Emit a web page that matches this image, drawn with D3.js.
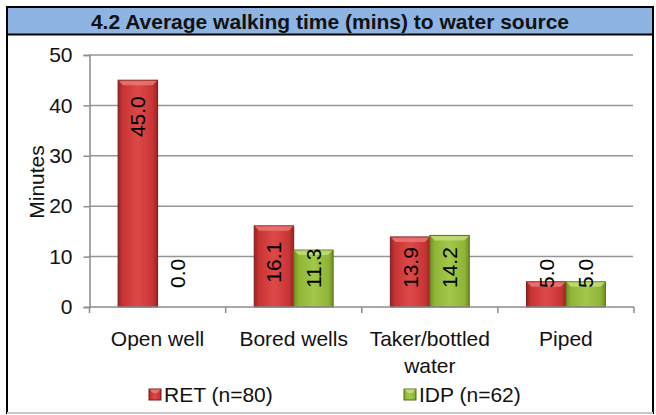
<!DOCTYPE html>
<html>
<head>
<meta charset="utf-8">
<script src="https://cdn.jsdelivr.net/npm/d3@7"></script>
<style>
  body { margin: 0; background: #fff; }
  svg { display: block; font-family: Arial, "Liberation Sans", sans-serif; }
</style>
</head>
<body>
<svg id="chart" width="656" height="415"></svg>
<script>
// chart data
const categories = ['Open well', 'Bored wells', 'Taker/bottled\nwater', 'Piped'];
const seriesNames = ['RET (n=80)', 'IDP (n=62)'];
const retValues = [45.0, 16.1, 13.9, 5.0];
const idpValues = [0.0, 11.3, 14.2, 5.0];
const yTicks = [0, 10, 20, 30, 40, 50];
const titleText = '4.2 Average walking time (mins) to water source';
const yTitle = 'Minutes';

const svg = d3.select('#chart');
const palette = {
  'RET (n=80)': { dark: '#9a2424', mid: '#c83434', light: '#dc4a48', top: '#e97470', stroke: '#7a1c1c' },
  'IDP (n=62)': { dark: '#6f8f22', mid: '#8fb436', light: '#a2c84a', top: '#c0dc74', stroke: '#55701a' }
};

const defs = svg.append('defs');
seriesNames.forEach((s, i) => {
  const c = palette[s];
  const g = defs.append('linearGradient').attr('id', 'grad' + i)
    .attr('x1', 0).attr('x2', 1).attr('y1', 0).attr('y2', 0);
  g.append('stop').attr('offset', '0%').attr('stop-color', c.dark);
  g.append('stop').attr('offset', '12%').attr('stop-color', c.mid);
  g.append('stop').attr('offset', '50%').attr('stop-color', c.light);
  g.append('stop').attr('offset', '88%').attr('stop-color', c.mid);
  g.append('stop').attr('offset', '100%').attr('stop-color', c.dark);
});

// frame + title band
svg.append('rect').attr('x', 7).attr('y', 7).attr('width', 646).attr('height', 406)
  .attr('fill', '#fff').attr('stroke', '#000').attr('stroke-width', 2);
svg.append('line').attr('x1', 7).attr('x2', 653).attr('y1', 413).attr('y2', 413)
  .attr('stroke', '#c8c8c8').attr('stroke-width', 2);
svg.append('rect').attr('x', 8).attr('y', 8).attr('width', 644).attr('height', 26)
  .attr('fill', '#8db4e2');
svg.append('line').attr('x1', 7).attr('x2', 653).attr('y1', 34.5).attr('y2', 34.5)
  .attr('stroke', '#000').attr('stroke-width', 2);
svg.append('text').attr('x', 330).attr('y', 21)
  .attr('text-anchor', 'middle').attr('dominant-baseline', 'central')
  .attr('font-weight', 'bold').attr('font-size', 21).attr('fill', '#111')
  .text(titleText);

// scales
const y = d3.scaleLinear().domain([0, 50]).range([307, 55]);
const x = d3.scaleBand().domain(categories).range([89.5, 634]);
const xs = d3.scaleBand().domain(seriesNames).range([0, x.bandwidth()])
  .paddingInner(0).paddingOuter(0.725);

// gridlines
svg.append('g').selectAll('line').data(yTicks.filter(d => d > 0)).enter()
  .append('line')
  .attr('x1', 89.5).attr('x2', 633)
  .attr('y1', d => y(d)).attr('y2', d => y(d))
  .attr('stroke', '#969696').attr('stroke-width', 1.5);

// y axis
const yAxis = svg.append('g').attr('transform', 'translate(89.5,0)')
  .call(d3.axisLeft(y).tickValues(yTicks).tickSize(6).tickPadding(11));
yAxis.select('.domain').attr('stroke', '#8c8c8c').attr('stroke-width', 1.5);
yAxis.selectAll('.tick line').attr('stroke', '#8c8c8c').attr('stroke-width', 1.5);
yAxis.selectAll('.tick text').attr('font-size', 21).attr('fill', '#111')
  .attr('font-family', 'Arial, "Liberation Sans", sans-serif');

svg.append('text')
  .attr('transform', 'translate(36,182) rotate(-90)')
  .attr('text-anchor', 'middle').attr('dominant-baseline', 'central')
  .attr('font-size', 21).attr('fill', '#111').text(yTitle);

// bars
const rows = categories.map((c, i) => ({ cat: c, vals: [retValues[i], idpValues[i]] }));
const groups = svg.append('g').selectAll('g').data(rows).enter()
  .append('g').attr('transform', d => `translate(${x(d.cat)},0)`);

groups.each(function (d) {
  const g = d3.select(this);
  d.vals.forEach((v, i) => {
    const s = seriesNames[i];
    const c = palette[s];
    const bx = xs(s), bw = xs.bandwidth();
    const top = y(v), h = y(0) - y(v);
    if (h > 0) {
      g.append('rect').attr('x', bx).attr('y', top).attr('width', bw).attr('height', h)
        .attr('fill', `url(#grad${i})`).attr('stroke', c.stroke).attr('stroke-width', 1);
      const b = Math.min(5, h / 2);
      g.append('path')
        .attr('d', `M${bx + 0.5},${top + 0.5}L${bx + bw - 0.5},${top + 0.5}L${bx + bw - b},${top + b}L${bx + b},${top + b}Z`)
        .attr('fill', c.top).attr('opacity', 0.9);
    }
    const lbl = g.append('text')
      .attr('text-anchor', 'start').attr('dominant-baseline', 'central')
      .attr('font-size', 21).attr('fill', '#000')
      .text(v.toFixed(1));
    const len = lbl.node().getComputedTextLength();
    const yb = Math.min(top + 16 + len, y(0) - 19);
    lbl.attr('transform', `translate(${bx + bw / 2},${yb}) rotate(-90)`);
  });
});

// x axis with ticks at category boundaries
svg.append('line').attr('x1', 89.5).attr('x2', 634).attr('y1', y(0)).attr('y2', y(0))
  .attr('stroke', '#8c8c8c').attr('stroke-width', 1.5);
const bounds = categories.map(c => x(c)).concat([x.range()[1]]);
svg.append('g').selectAll('line').data(bounds).enter()
  .append('line')
  .attr('x1', d => d).attr('x2', d => d)
  .attr('y1', y(0)).attr('y2', y(0) + 6)
  .attr('stroke', '#8c8c8c').attr('stroke-width', 1.5);

const xl = svg.append('g').selectAll('text').data(categories).enter()
  .append('text')
  .attr('x', d => x(d) + x.bandwidth() / 2)
  .attr('y', 338)
  .attr('text-anchor', 'middle').attr('dominant-baseline', 'central')
  .attr('font-size', 21).attr('fill', '#111');
xl.each(function (d) {
  d.split('\n').forEach((line, k) => {
    d3.select(this).append('tspan')
      .attr('x', x(d) + x.bandwidth() / 2)
      .attr('dy', k === 0 ? 0 : 27)
      .text(line);
  });
});

// legend
const legendX = [149, 404];
const leg = svg.append('g').selectAll('g').data(seriesNames).enter()
  .append('g').attr('transform', (d, i) => `translate(${legendX[i]},389)`);
leg.append('rect').attr('width', 12).attr('height', 11)
  .attr('fill', (d, i) => `url(#grad${i})`)
  .attr('stroke', d => palette[d].stroke).attr('stroke-width', 1);
leg.append('path').attr('d', 'M0.5,0.5L11.5,0.5L8,4L4,4Z')
  .attr('fill', d => palette[d].top);
leg.append('text').attr('x', 15).attr('y', 5.5)
  .attr('dominant-baseline', 'central')
  .attr('font-size', 21).attr('fill', '#111')
  .text(d => d);
</script>
</body>
</html>
